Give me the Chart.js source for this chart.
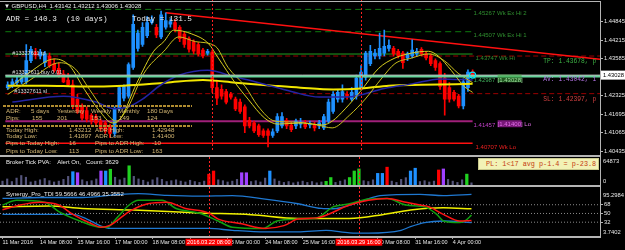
<!DOCTYPE html>
<html><head><meta charset="utf-8">
<script src="https://cdn.jsdelivr.net/npm/chart.js@4.4.1/dist/chart.umd.min.js"></script>
<style>
html,body{margin:0;padding:0;background:#000;}
body{width:625px;height:250px;position:relative;overflow:hidden;font-family:"Liberation Sans",Arial,sans-serif;}
.pane{position:absolute;left:0;width:625px;}
.t{position:absolute;white-space:pre;line-height:1;}
.sep{position:absolute;left:0;width:600px;height:2px;background:#b4b4b4;}
.w{color:#ececec;}
.i{color:#d6b874;font-size:6.2px;}
.mono{font-family:"Liberation Mono","Courier New",monospace;}
.dots{position:absolute;left:3px;width:189px;height:2px;background:repeating-linear-gradient(90deg,#b08c30 0 3px,transparent 3px 4px);}
</style></head><body>
<div class="pane" style="top:0;height:157px"><canvas id="cMain"></canvas></div>
<div class="pane" style="top:157px;height:28px"><canvas id="cVol"></canvas></div>
<div class="pane" style="top:187px;height:63px"><canvas id="cTdi"></canvas></div>
<div class="sep" style="top:1px;height:1px"></div>
<div class="sep" style="top:155px"></div>
<div class="sep" style="top:185px"></div>
<div class="sep" style="top:236px"></div>
<div style="position:absolute;left:600px;top:1px;width:1px;height:237px;background:#b4b4b4"></div>

<div class="t w" style="left:4px;top:3px;font-size:6px">▼ GBPUSD,H4  1.43142 1.43212 1.43006 1.43028</div>
<div class="t w mono" style="left:6px;top:16px;font-size:7.7px">ADR = 140.3  (10 days)</div>
<div class="t w mono" style="left:132px;top:16px;font-size:7.7px">Today = 131.5</div>

<div class="dots" style="top:105px"></div>
<div class="dots" style="top:124.5px"></div>
<div class="t i" style="left:6px;top:108.4px">ADR:</div>
<div class="t i" style="left:31px;top:108.4px">5 days</div>
<div class="t i" style="left:57px;top:108.4px">Yesterday</div>
<div class="t i" style="left:91px;top:108.4px">Weekly</div>
<div class="t i" style="left:118px;top:108.4px">Monthly</div>
<div class="t i" style="left:147px;top:108.4px">180 Days</div>
<div class="t i" style="left:6px;top:115px">Pips:</div>
<div class="t i" style="left:32px;top:115px">155</div>
<div class="t i" style="left:57px;top:115px">201</div>
<div class="t i" style="left:91px;top:115px">153</div>
<div class="t i" style="left:119px;top:115px">149</div>
<div class="t i" style="left:147px;top:115px">124</div>
<div class="t i" style="left:6px;top:127px">Today High:</div>
<div class="t i" style="left:69px;top:127px">1.43212</div>
<div class="t i" style="left:95px;top:127px">ADR High:</div>
<div class="t i" style="left:152px;top:127px">1.42948</div>
<div class="t i" style="left:6px;top:133.4px">Today Low:</div>
<div class="t i" style="left:69px;top:133.4px">1.41897</div>
<div class="t i" style="left:95px;top:133.4px">ADR Low:</div>
<div class="t i" style="left:152px;top:133.4px">1.41400</div>
<div class="t i" style="left:6px;top:140.4px">Pips to Today High:</div>
<div class="t i" style="left:69px;top:140.4px">16</div>
<div class="t i" style="left:95px;top:140.4px">Pips to ADR High:</div>
<div class="t i" style="left:152px;top:140.4px">-10</div>
<div class="t i" style="left:6px;top:147.7px">Pips to Today Low:</div>
<div class="t i" style="left:69px;top:147.7px">113</div>
<div class="t i" style="left:95px;top:147.7px">Pips to ADR Low:</div>
<div class="t i" style="left:152px;top:147.7px">163</div>

<div class="t w" style="left:6px;top:159px;font-size:6px">Broker Tick PVA:    Alert On,   Count: 3629</div>
<div class="t w" style="left:6px;top:190.5px;font-size:6px">Synergy_Pro_TDI 59.5666 46.4966 35.3552</div>
<div style="position:absolute;left:478px;top:158px;width:121px;height:11.5px;background:#f2f2b6;border:1px solid #c8c88c;box-sizing:border-box"></div>
<div class="t mono" style="left:486px;top:160.6px;font-size:6.8px;color:#c43c10">PL: 1&lt;17 avg p-1.4 = p-23.8</div>

<script>
// ---------------- DATA ----------------
const timeLabels = ["11 Mar 2016","14 Mar 08:00","15 Mar 16:00","17 Mar 00:00","18 Mar 08:00","21 Mar 16:00","23 Mar 00:00","24 Mar 08:00","25 Mar 16:00","29 Mar 00:00","30 Mar 08:00","31 Mar 16:00","4 Apr 00:00"];
const timeLabelBars = [0,8,16,24,32,40,48,56,64,72,80,88,96];
const markerBars = [44,76];
const markerLabels = ["2016.03.22 08:00","2016.03.29 16:00"];

const open = [1.4260,1.4267,1.4277,1.4280,1.4280,1.4352,1.4381,1.4368,1.4345,1.4368,1.4342,1.4326,1.4306,1.4286,1.4270,1.4221,1.4198,1.4182,1.4166,1.4162,
1.4146,1.4140,1.4130,1.4104,1.4188,1.4224,1.4231,1.4329,1.4394,1.4407,1.4437,1.4482,1.4466,1.4433,1.4466,1.4476,1.4482,1.4466,1.4443,1.4427,
1.4417,1.4407,1.4388,1.4378,1.4381,1.4260,1.4254,1.4247,1.4237,1.4221,1.4211,1.4195,1.4149,1.4140,1.4130,1.4113,1.4113,1.4097,1.4113,1.4130,
1.4149,1.4133,1.4130,1.4136,1.4136,1.4133,1.4133,1.4130,1.4123,1.4146,1.4179,1.4221,1.4221,1.4237,1.4221,1.4231,1.4260,1.4296,1.4342,1.4368,
1.4368,1.4378,1.4394,1.4394,1.4384,1.4378,1.4361,1.4368,1.4375,1.4391,1.4375,1.4368,1.4352,1.4342,1.4293,1.4260,1.4244,1.4231,1.4198,1.4260,1.43142];
const high = [1.4280,1.4290,1.4296,1.4306,1.4407,1.4401,1.4394,1.4391,1.4384,1.4378,1.4358,1.4345,1.4319,1.4309,1.4286,1.4237,1.4205,1.4195,1.4172,1.4169,
1.4153,1.4146,1.4136,1.4195,1.4267,1.4270,1.4345,1.4508,1.4456,1.4482,1.4502,1.4505,1.4476,1.4521,1.4515,1.4495,1.4492,1.4472,1.4450,1.4433,
1.4423,1.4414,1.4394,1.4391,1.4388,1.4286,1.4270,1.4254,1.4244,1.4228,1.4221,1.4202,1.4159,1.4146,1.4136,1.4120,1.4120,1.4120,1.4172,1.4175,
1.4156,1.4143,1.4153,1.4156,1.4149,1.4146,1.4143,1.4149,1.4169,1.4221,1.4247,1.4254,1.4270,1.4247,1.4260,1.4303,1.4335,1.4384,1.4404,1.4391,
1.4446,1.4456,1.4423,1.4401,1.4391,1.4384,1.4381,1.4423,1.4394,1.4397,1.4381,1.4375,1.4358,1.4348,1.4309,1.4277,1.4251,1.4237,1.4290,1.4321,1.43212];
const low = [1.4254,1.4260,1.4270,1.4273,1.4273,1.4345,1.4358,1.4358,1.4332,1.4329,1.4313,1.4296,1.4277,1.4264,1.4188,1.4172,1.4149,1.4143,1.4136,1.4130,
1.4113,1.4104,1.4091,1.4094,1.4182,1.4215,1.4224,1.4322,1.4384,1.4401,1.4430,1.4476,1.4430,1.4427,1.4459,1.4466,1.4450,1.4417,1.4397,1.4381,
1.4375,1.4368,1.4361,1.4371,1.4244,1.4202,1.4221,1.4205,1.4221,1.4182,1.4172,1.4107,1.4123,1.4107,1.4094,1.4091,1.4058,1.4091,1.4107,1.4123,
1.4120,1.4110,1.4120,1.4123,1.4120,1.4123,1.4113,1.4120,1.4117,1.4140,1.4172,1.4211,1.4211,1.4221,1.4215,1.4221,1.4254,1.4286,1.4335,1.4358,
1.4358,1.4368,1.4384,1.4368,1.4361,1.4326,1.4352,1.4361,1.4368,1.4368,1.4355,1.4335,1.4319,1.4254,1.4166,1.4211,1.4215,1.4191,1.4188,1.4247,1.43006];
const close = [1.4270,1.4280,1.4286,1.4293,1.4352,1.4391,1.4371,1.4381,1.4375,1.4335,1.4319,1.4303,1.4280,1.4270,1.4195,1.4179,1.4156,1.4153,1.4146,1.4140,
1.4120,1.4113,1.4104,1.4188,1.4260,1.4264,1.4339,1.4476,1.4446,1.4466,1.4482,1.4492,1.4440,1.4508,1.4489,1.4485,1.4459,1.4427,1.4407,1.4391,
1.4384,1.4375,1.4368,1.4384,1.4260,1.4224,1.4231,1.4211,1.4228,1.4188,1.4179,1.4130,1.4130,1.4113,1.4100,1.4097,1.4097,1.4110,1.4162,1.4162,
1.4130,1.4117,1.4146,1.4143,1.4126,1.4136,1.4123,1.4140,1.4162,1.4211,1.4237,1.4244,1.4247,1.4231,1.4244,1.4293,1.4313,1.4378,1.4384,1.4378,
1.4394,1.4401,1.4404,1.4375,1.4368,1.4345,1.4375,1.4388,1.4384,1.4375,1.4361,1.4342,1.4329,1.4264,1.4221,1.4221,1.4221,1.4198,1.4280,1.4313,1.43028];

const maSlowBar = [0,8,16,25,34,42,49,57,63,70,76,82,89,100];
const maSlow    = [1.4267,1.4267,1.4264,1.4267,1.4277,1.4286,1.4277,1.4267,1.4260,1.4254,1.4257,1.4267,1.4270,1.4273];
const maNavyBar = [1,12,19,23,26,29,33,37,43,49,54,61,67,73,81,87,93,100];
const maNavy    = [1.4211,1.4231,1.4211,1.4188,1.4195,1.4221,1.4270,1.4303,1.4319,1.4296,1.4277,1.4247,1.4228,1.4228,1.4257,1.4273,1.4290,1.4286];
const maFastBar = [0,4.8,10.1,13.3,16.5,19.7,22.5,24,27.8,31.4,33.6,35.7,39.6,43.2,45.3,48.9,51.7,55.3,58.1,63.4,67.7,69.8,72.6,76.2,79.8,83.3,86.9,90.5,92.6,95.4,98.2,100];
const maFast    = [1.4254,1.4313,1.4358,1.4335,1.4254,1.4182,1.4140,1.4149,1.4277,1.4384,1.4417,1.4456,1.4443,1.4410,1.4361,1.4277,1.4221,1.4156,1.4136,1.4140,1.4133,1.4146,1.4188,1.4254,1.4326,1.4361,1.4378,1.4384,1.4368,1.4319,1.4264,1.4244];
const maMidBar  = [0,4.8,11.2,14.4,17.6,20.8,23.3,25.7,29.3,33.6,36.8,40.4,44.7,47.4,51.1,53.8,57.5,61.3,66.6,69.8,73.5,76.9,80.5,83.3,86.9,90.5,93.9,96.9,100];
const maMid     = [1.4237,1.4286,1.4345,1.4326,1.4254,1.4182,1.4146,1.4188,1.4309,1.4384,1.4433,1.4417,1.4401,1.4329,1.4264,1.4198,1.4146,1.4143,1.4133,1.4123,1.4166,1.4221,1.4293,1.4342,1.4361,1.4375,1.4352,1.4309,1.4277];

const weekExHi2 = 1.45267, weekExHi1 = 1.44507, weekHi = 1.43747, takeProfit = 1.43678;
const avgPrice = 1.43042, orderOpen = 1.42987, bid = 1.43028, stopLoss = 1.42397;
const adrLowLine = 1.41457, adrLow = 1.41400, weekLo = 1.40707;
const trendBar = [34,127.4];
const trendVal = [1.4515,1.4357];
const priceTicks = [1.44845,1.44215,1.43585,1.42955,1.42325,1.41695,1.41065,1.40435];

const volume = [9000,14000,8000,16000,22000,18000,7000,9000,12000,15000,10000,7000,9000,13000,20000,30800,28400,12000,8000,10000,
14000,32400,32400,36500,18000,12000,16000,44500,20000,14000,11000,7000,12000,17000,13000,8000,10000,12000,9000,7000,
11000,8000,6000,9000,25000,32400,12000,10000,7000,9000,13000,28400,28400,8000,10000,7000,16000,32400,14000,9000,
6000,8000,5000,7000,9000,6000,8000,5000,7000,8400,17300,6000,9000,12000,17300,32400,37200,10000,8000,12000,
26900,26900,41300,9000,6000,13000,17000,32400,38900,8000,10000,7000,9000,34800,37200,13000,9000,6000,12000,25200,5000];
const volumeType = ("nnnnnnnnnnnnnnnbpnnnnpbgnnngnnnnnnnnnnnnnnnnrrnnnnnppnnnnbnn" +
                    "nnnnnnnnnggnnnggg" + "nnnbbr" + "nnnnbbnnnnrp" + "nnnngn").split("");
const volumeMax = 64873;

const tdiUpBar = [0,8,17,25,29,35,42,49,56,63,68,70.5,76,80.5,89,94,100];
const tdiUp    = [81.0,82.9,82.9,89.3,90.7,87.4,85.8,86.8,79.6,70.0,60.3,59.7,73.2,86.8,89.3,86.8,89.3];
const tdiLoBar = [0,8,15,18,21,23,29,44,49,56,63,69,74,78,85,87,90,94,100];
const tdiLo    = [48.1,48.1,48.1,38.4,24.0,19.1,19.1,19.1,15.2,11.9,11.9,15.2,10.0,9.4,15.2,22.9,31.3,34.5,31.3];
const tdiRedBar = [0,4,8,12,15,19,21,23,27,31,35,39,44,46,51,56,60,63,67,74,78,82,86,89,91,94,97.5,100];
const tdiRed    = [57.8,68.0,73.2,67.4,48.1,28.7,21.6,26.0,53.9,70.0,73.2,60.3,50.6,38.4,28.7,19.1,24.9,38.4,40.9,67.4,77.1,81.0,73.2,67.4,63.6,48.1,34.5,35.4];
const tdiGreenBar = [0,3,9,12,16.5,21,22.3,24.4,27,29,34,37,42,46,49,55.5,58.5,63,67,70.5,74,78,82,86,90,92.6,94,97.5,98.6,100];
const tdiGreen    = [67.4,77.1,73.2,53.9,34.5,21.6,21.6,40.9,67.4,77.1,77.1,60.3,50.6,34.5,21.6,19.1,34.5,38.4,40.9,63.6,70.0,79.6,81.0,67.4,63.6,48.1,34.5,31.3,34.5,46.5];
const tdiYellowBar = [0,10,17,28,42,53,63,74,81,87,94,100];
const tdiYellow    = [63.6,65.5,60.3,57.2,51.0,47.5,39.8,39.8,47.5,57.2,61.6,59.6];
const tdiLevels = [68,50,32];
const tdiMin = 3.7402, tdiMax = 95.2984;

// ---------------- STYLE / HELPERS ----------------
const SANS = '"Liberation Sans", Arial, sans-serif';
const MONO = '"Liberation Mono", "Courier New", monospace';
const BULL = '#1e90ff', BEAR = '#ff0000';
const XMIN = -0.533, XMAX = 127.4;
const lastBar = open.length - 1;
Chart.defaults.font.family = SANS;
Chart.defaults.color = '#e6e6e6';

const pts = (xs, ys) => xs.map((b, k) => ({x: b, y: ys[k]}));
const flat = (v, x0, x1) => [{x: x0, y: v}, {x: x1, y: v}];
const line = (data, color, width, order, extra) => Object.assign({
  type: 'line', data, borderColor: color, borderWidth: width, pointRadius: 0,
  fill: false, tension: 0, order, spanGaps: true
}, extra || {});
const smooth = {tension: 0.4, cubicInterpolationMode: 'monotone'};

function put(ctx, s, x, y, color, font, align) {
  ctx.fillStyle = color; ctx.font = font; ctx.textAlign = align || 'left';
  ctx.textBaseline = 'middle'; ctx.fillText(s, x, y);
}
const vlines = {
  id: 'vlines',
  afterDatasetsDraw(chart) {
    const {ctx, chartArea: a, scales: {x}} = chart;
    ctx.save(); ctx.strokeStyle = '#ff2020'; ctx.lineWidth = 1; ctx.setLineDash([2, 2]);
    markerBars.forEach(b => {
      const px = Math.round(x.getPixelForValue(b)) + 0.5;
      ctx.beginPath(); ctx.moveTo(px, 0); ctx.lineTo(px, a.bottom); ctx.stroke();
    });
    ctx.restore();
  }
};
const xHidden = {type: 'linear', min: XMIN, max: XMAX, display: false, offset: false, grid: {offset: false}};
const baseOpts = {
  responsive: true, maintainAspectRatio: false, animation: false, events: [],
  plugins: {legend: {display: false}, tooltip: {enabled: false}}
};

// ---------------- MAIN PRICE PANE ----------------
const mainText = {
  id: 'mainText',
  afterDatasetsDraw(chart) {
    const {ctx, chartArea: a, scales: {x, y}} = chart;
    ctx.save();
    const xr = x.getPixelForValue(lastBar) + 1;
    const f6 = '6px ' + SANS;
    put(ctx, weekExHi2.toFixed(5) + ' Wk Ex Hi 2', xr, y.getPixelForValue(weekExHi2) + 3.5, '#2f8f2f', f6);
    put(ctx, weekExHi1.toFixed(5) + ' Wk Ex Hi 1', xr, y.getPixelForValue(weekExHi1) + 3.6, '#2f8f2f', f6);
    put(ctx, weekHi.toFixed(5) + ' Wk Hi', xr + 2, y.getPixelForValue(weekHi) + 4.4, '#2f8f2f', f6);
    put(ctx, orderOpen.toFixed(5), xr, y.getPixelForValue(orderOpen) + 3.7, '#3fae5a', f6);
    ctx.fillStyle = 'rgba(60,160,60,0.55)';
    ctx.fillRect(xr + 24, y.getPixelForValue(orderOpen) - 2, 24, 8);
    put(ctx, '[' + bid.toFixed(5) + ']', xr + 24, y.getPixelForValue(orderOpen) + 3.7, '#9fe29f', f6);
    put(ctx, adrLowLine.toFixed(5), xr, y.getPixelForValue(adrLowLine) + 4.3, '#c040c8', f6);
    ctx.fillStyle = 'rgba(150,30,150,0.8)';
    ctx.fillRect(xr + 24, y.getPixelForValue(adrLowLine) - 1, 24, 7);
    put(ctx, '[' + adrLow.toFixed(5) + '] Lo', xr + 24, y.getPixelForValue(adrLowLine) + 3, '#e070e8', f6);
    put(ctx, weekLo.toFixed(5) + ' Wk Lo', xr + 2, y.getPixelForValue(weekLo) + 4.3, '#ee2020', f6);
    const xl = x.getPixelForValue(1);
    const f5 = '5.5px ' + SANS;
    put(ctx, '#13327611 tp', xl, y.getPixelForValue(takeProfit) - 3, '#dcdcdc', f5);
    put(ctx, '#13327611 buy 0.01', xl, y.getPixelForValue(orderOpen) - 4, '#dcdcdc', f5);
    put(ctx, '#13327611 sl', xl + 2, y.getPixelForValue(stopLoss) - 2.5, '#dcdcdc', f5);
    ctx.beginPath(); ctx.rect(a.left, a.top, a.right - a.left, a.bottom - a.top); ctx.clip();
    const xt = x.getPixelForValue(115.2);
    const fm = '6.3px ' + MONO;
    put(ctx, 'TP: ' + takeProfit.toFixed(5) + ', p', xt, y.getPixelForValue(takeProfit) + 5.7, '#3cb043', fm);
    put(ctx, 'AV: ' + avgPrice.toFixed(5) + ', 1', xt, y.getPixelForValue(avgPrice) + 4.3, '#b474e6', fm);
    put(ctx, 'SL: ' + stopLoss.toFixed(5) + ', p', xt, y.getPixelForValue(stopLoss) + 5.7, '#d04040', fm);
    ctx.restore();
  },
  afterDraw(chart) {
    const {ctx, chartArea: a, scales: {y}} = chart;
    const yb = y.getPixelForValue(bid);
    ctx.save();
    ctx.fillStyle = '#ffffff'; ctx.fillRect(a.right + 1, yb - 4.5, 24, 9);
    put(ctx, bid.toFixed(5), a.right + 3, yb, '#000000', '5.8px ' + SANS);
    ctx.restore();
  }
};

new Chart(document.getElementById('cMain'), {
  type: 'bar',
  data: {datasets: [
    line(flat(weekExHi2, XMIN, lastBar), '#0e7a0e', 1, 20, {borderDash: [6, 4]}),
    line(flat(weekExHi1, XMIN, lastBar), '#0e7a0e', 1, 20, {borderDash: [6, 4]}),
    line(flat(weekHi, XMIN, lastBar), '#22a022', 1, 20),
    line(flat(takeProfit, XMIN, XMAX), '#9a0000', 1, 20, {borderDash: [5, 3]}),
    line(flat(stopLoss, XMIN, XMAX), '#9a0000', 1, 20, {borderDash: [5, 3]}),
    line(flat(adrLowLine, XMIN, lastBar), '#a0207a', 2.2, 20),
    line(flat(weekLo, XMIN, lastBar), '#ff1010', 1.5, 20),
    line(pts(trendBar, trendVal), '#ff1010', 1.5, 19),
    {type: 'bar', data: open.map((o, i) => ({x: i, y: [low[i], high[i]]})), grouped: false, barThickness: 1,
     backgroundColor: c => close[c.dataIndex] >= open[c.dataIndex] ? BULL : BEAR, order: 12},
    {type: 'bar', data: open.map((o, i) => ({x: i, y: [o, close[i]]})), grouped: false, barThickness: 3,
     backgroundColor: c => close[c.dataIndex] >= open[c.dataIndex] ? BULL : BEAR, order: 11, minBarLength: 1},
    line(pts(maSlowBar, maSlow), '#f2e600', 2, 8, smooth),
    line(pts(maNavyBar, maNavy), '#2424a4', 1.5, 7, smooth),
    line(pts(maMidBar, maMid), '#c9bf1c', 1, 6, smooth),
    line(pts(maFastBar, maFast), '#d8d020', 1, 5, smooth),
    line(flat(orderOpen, XMIN, XMAX), '#64d49a', 2.5, 4),
    line(flat(bid, XMIN, XMAX), '#b8b8b8', 1, 3),
    {type: 'line', data: [{x: lastBar, y: bid}], showLine: false, pointRadius: 3, pointBorderWidth: 1.2,
     pointBorderColor: '#00e8ff', pointBackgroundColor: 'rgba(0,0,0,0)', order: 1}
  ]},
  options: Object.assign({}, baseOpts, {
    layout: {padding: {top: 2, bottom: 2, left: 0, right: 0}},
    scales: {
      x: xHidden,
      y: {type: 'linear', position: 'right', min: 1.40416, max: 1.45410,
          afterFit: s => { s.width = 25; },
          afterBuildTicks: s => { s.ticks = priceTicks.map(v => ({value: v})); },
          ticks: {callback: v => Number(v).toFixed(5), color: '#e6e6e6', font: {size: 5.8}, padding: 1},
          grid: {drawOnChartArea: false, tickLength: 3, color: '#b4b4b4'}, border: {display: false}}
    }
  }),
  plugins: [vlines, mainText]
});

// ---------------- VOLUME PANE ----------------
const volColors = {b: '#1e90ff', p: '#a040ff', g: '#20d020', r: '#ff0000', n: '#55557c'};
const edgeLabels = (top, bottom) => ({
  id: 'edge',
  afterDraw(chart) {
    const {ctx, chartArea: a} = chart;
    ctx.save();
    put(ctx, top, a.right + 3, a.top + 4.2, '#e6e6e6', '5.8px ' + SANS);
    put(ctx, bottom, a.right + 3, a.bottom - 3.4, '#e6e6e6', '5.8px ' + SANS);
    ctx.restore();
  }
});
new Chart(document.getElementById('cVol'), {
  type: 'bar',
  data: {datasets: [
    {data: volume.map((v, i) => volumeType[i] === 'n' ? {x: i, y: v} : null).filter(Boolean),
     backgroundColor: volColors.n, barThickness: 1.5, grouped: false, order: 2},
    {data: volume.map((v, i) => volumeType[i] !== 'n' ? {x: i, y: v, t: volumeType[i]} : null).filter(Boolean),
     backgroundColor: c => volColors[c.raw.t], barThickness: 2.6, grouped: false, order: 1}
  ]},
  options: Object.assign({}, baseOpts, {
    layout: {padding: 0},
    scales: {
      x: xHidden,
      y: {type: 'linear', position: 'right', min: 0, max: volumeMax, afterFit: s => { s.width = 25; },
          ticks: {display: false}, grid: {display: false}, border: {display: false}}
    }
  }),
  plugins: [vlines, edgeLabels(String(volumeMax), '0')]
});

// ---------------- TDI PANE ----------------
const timeBoxes = {
  id: 'timeBoxes',
  afterDraw(chart) {
    const {ctx, chartArea: a, scales: {x}} = chart;
    ctx.save();
    markerBars.forEach((b, k) => {
      const px = x.getPixelForValue(b);
      ctx.font = '5.6px ' + SANS;
      const w = ctx.measureText(markerLabels[k]).width + 3;
      ctx.fillStyle = '#ff0000';
      ctx.fillRect(px - w / 2, a.bottom + 2.8, w, 7);
      put(ctx, markerLabels[k], px, a.bottom + 6.4, '#ffffff', '5.6px ' + SANS, 'center');
    });
    ctx.restore();
  }
};
new Chart(document.getElementById('cTdi'), {
  type: 'line',
  data: {datasets: tdiLevels.map(v => line(flat(v, XMIN, XMAX), '#8a8a8a', 1, 10, {borderDash: [1, 2]})).concat([
    line(pts(tdiUpBar, tdiUp), '#1f78d1', 1.3, 6, smooth),
    line(pts(tdiLoBar, tdiLo), '#1f78d1', 1.3, 6, smooth),
    line(pts(tdiYellowBar, tdiYellow), '#f0f000', 1.5, 5, smooth),
    line(pts(tdiGreenBar, tdiGreen), '#10a010', 1.5, 4, smooth),
    line(pts(tdiRedBar, tdiRed), '#ff1414', 1.5, 3, smooth)
  ])},
  options: Object.assign({}, baseOpts, {
    layout: {padding: {top: 1.6, bottom: 0, left: 0, right: 0}},
    scales: {
      x: {type: 'linear', min: XMIN, max: XMAX, offset: false,
          afterFit: s => { s.height = 14.1; },
          afterBuildTicks: s => { s.ticks = timeLabelBars.map(v => ({value: v})); },
          ticks: {callback: (v, i) => timeLabels[i], align: 'start', autoSkip: false, maxRotation: 0, minRotation: 0,
                  color: '#e6e6e6', font: {size: 5.5}, padding: 0},
          grid: {drawOnChartArea: false, tickLength: 3, color: '#b4b4b4', offset: false}, border: {display: false}},
      y: {type: 'linear', position: 'right', min: tdiMin, max: tdiMax,
          afterFit: s => { s.width = 25; },
          afterBuildTicks: s => { s.ticks = tdiLevels.map(v => ({value: v})); },
          ticks: {callback: v => String(v), color: '#e6e6e6', font: {size: 5.8}, padding: 1},
          grid: {drawOnChartArea: false, tickLength: 3, color: '#b4b4b4'}, border: {display: false}}
    }
  }),
  plugins: [vlines, timeBoxes, edgeLabels(String(tdiMax), String(tdiMin))]
});
</script>
</body></html>
